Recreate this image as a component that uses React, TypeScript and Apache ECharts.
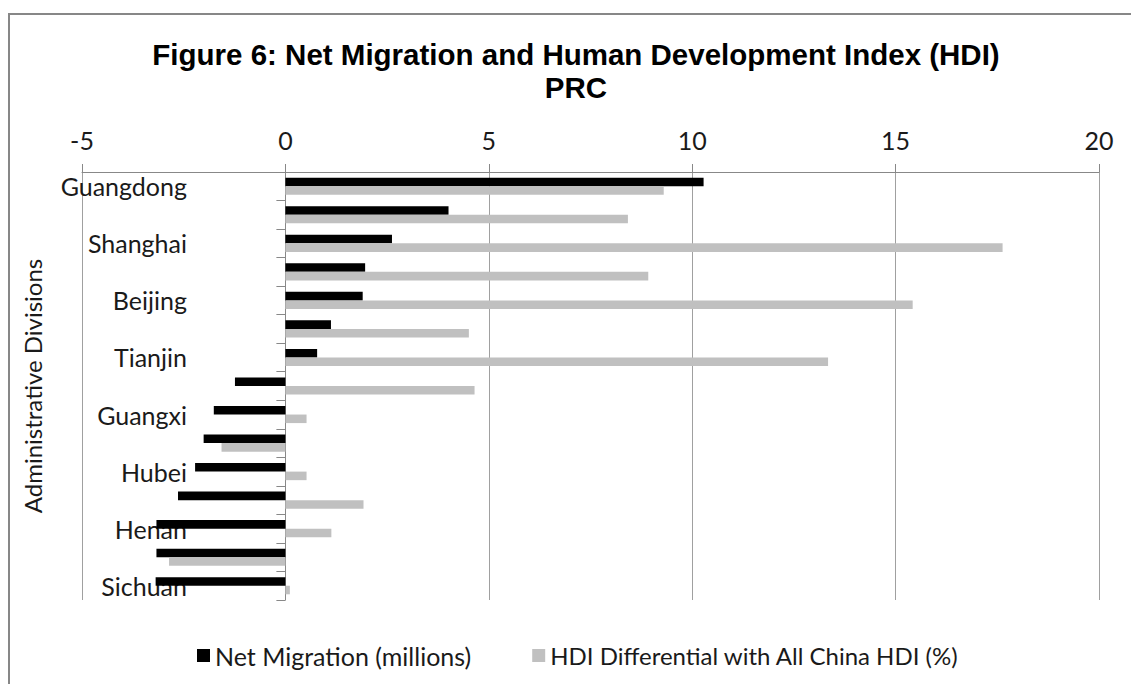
import React, { useEffect, useRef } from "react";
import * as echarts from "echarts";

const categories = [
  "Guangdong", "Zhejiang", "Shanghai", "Jiangsu", "Beijing", "Fujian", "Tianjin",
  "Chongqing", "Guangxi", "Jiangxi", "Hubei", "Hunan", "Henan", "Anhui", "Sichuan",
];
const netMigration = [10.28, 4.01, 2.62, 1.96, 1.9, 1.12, 0.78, -1.24, -1.76, -2.01, -2.22, -2.64, -3.17, -3.17, -3.19];
const hdiDiff = [9.3, 8.42, 17.63, 8.92, 15.42, 4.51, 13.34, 4.65, 0.52, -1.57, 0.52, 1.92, 1.13, -2.86, 0.11];
const seriesNames = ["Net Migration (millions)", "HDI Differential with All China HDI (%)"];
const xMin = -5;
const xMax = 20;
const xInterval = 5;

const LABEL_FONT = "Lato, 'Open Sans', sans-serif";

export default function App() {
  const ref = useRef<HTMLDivElement>(null);
  useEffect(() => {
    document.body.style.margin = "0";
    if (!ref.current) return;
    const chart = echarts.init(ref.current, undefined, { renderer: "svg" });
    chart.setOption({
      animation: false,
      backgroundColor: "#ffffff",
      title: {
        text: "Figure 6: Net Migration and Human Development Index (HDI)\nPRC",
        left: 576,
        textAlign: "center",
        top: 38,
        padding: 0,
        textStyle: {
          fontFamily: "'Liberation Sans', Arial, sans-serif",
          fontWeight: "bold",
          fontSize: 29.5,
          lineHeight: 33,
          color: "#000000",
        },
      },
      graphic: [
        {
          type: "rect",
          shape: { x: 9, y: 14, width: 1300, height: 900 },
          style: { fill: "none", stroke: "#878787", lineWidth: 2 },
          z: -1,
          silent: true,
        },
      ],
      legend: {
        left: 197,
        top: 643,
        padding: 0,
        itemWidth: 13,
        itemHeight: 13,
        itemGap: 61,
        icon: "rect",
        textStyle: { fontFamily: LABEL_FONT, fontSize: 25, color: "#1a1a1a" },
        data: [
          { name: seriesNames[0] },
          { name: seriesNames[1], textStyle: { fontSize: 24 } },
        ],
      },
      grid: { left: 82, right: 32, top: 172, bottom: 84, outerBoundsMode: "none", containLabel: false },
      xAxis: {
        type: "value",
        position: "top",
        min: xMin,
        max: xMax,
        interval: xInterval,
        axisLine: { show: true, lineStyle: { color: "#888888", width: 1 } },
        axisTick: { show: true, length: 8, lineStyle: { color: "#888888" } },
        splitLine: { show: true, lineStyle: { color: "#a0a0a0", width: 1 } },
        axisLabel: { margin: 20, fontFamily: LABEL_FONT, fontSize: 25, color: "#1a1a1a" },
      },
      yAxis: {
        type: "category",
        inverse: true,
        data: categories,
        name: "Administrative Divisions",
        nameLocation: "middle",
        nameRotate: 90,
        nameGap: 38,
        nameTextStyle: { fontFamily: LABEL_FONT, fontSize: 24, color: "#1a1a1a" },
        axisLine: { show: true, onZero: true, lineStyle: { color: "#888888", width: 1 } },
        axisTick: { show: true, length: 9, interval: 0, lineStyle: { color: "#888888" } },
        axisLabel: { interval: 1, margin: -105, fontFamily: LABEL_FONT, fontSize: 25, color: "#1a1a1a" },
        splitLine: { show: false },
      },
      series: [
        {
          name: seriesNames[0],
          type: "bar",
          data: netMigration,
          barGap: "0%",
          barCategoryGap: "40%",
          itemStyle: { color: "#000000" },
        },
        {
          name: seriesNames[1],
          type: "bar",
          data: hdiDiff,
          barGap: "0%",
          barCategoryGap: "40%",
          itemStyle: { color: "#c0c0c0" },
        },
      ],
    });
    return () => chart.dispose();
  }, []);
  return <div ref={ref} style={{ width: 1131, height: 684 }} />;
}
